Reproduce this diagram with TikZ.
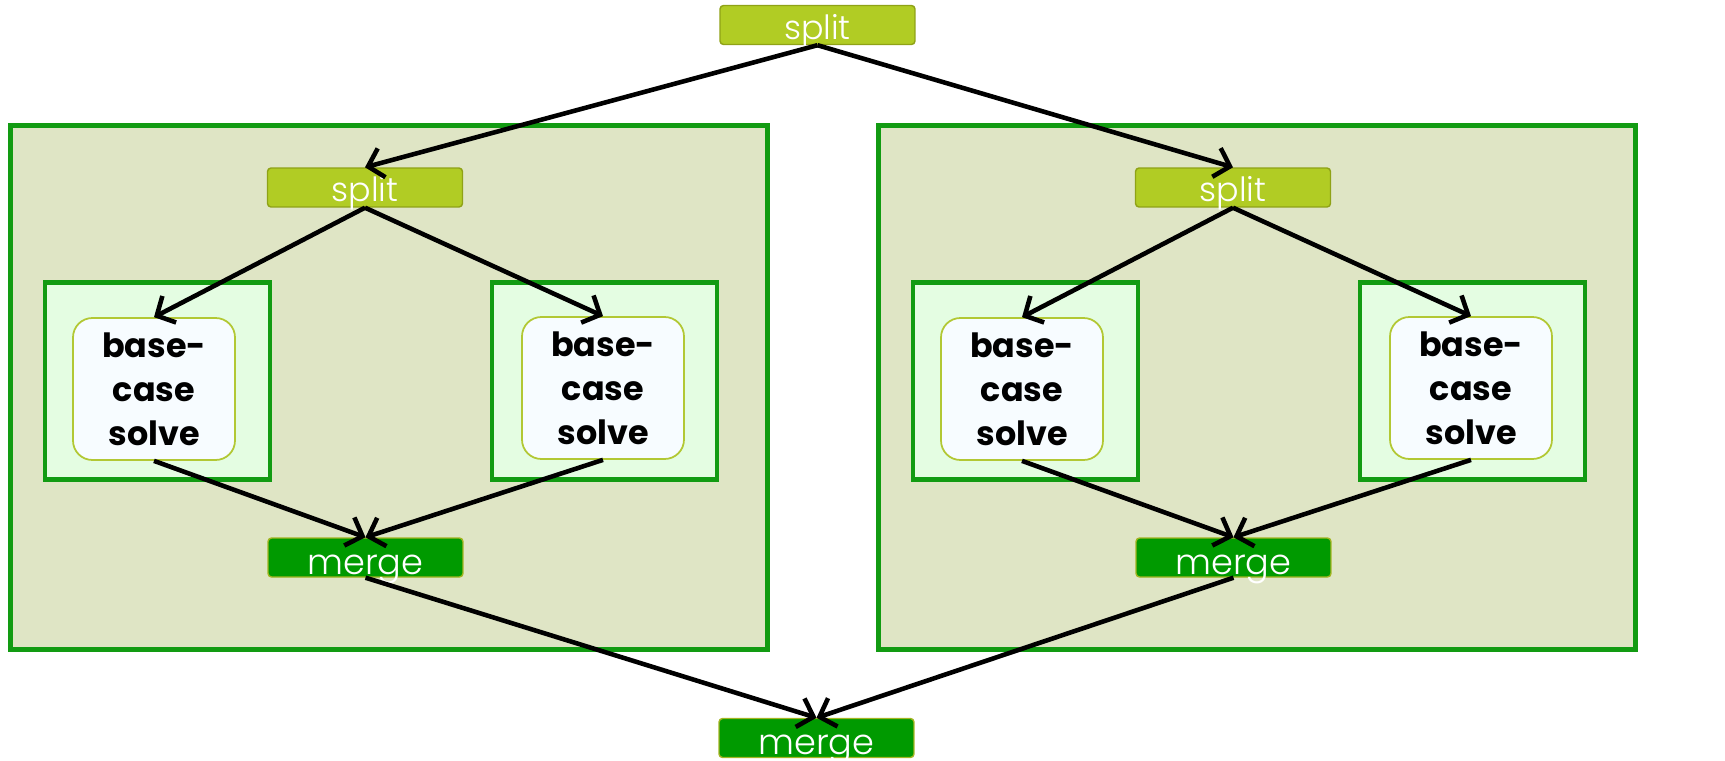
\documentclass[tikz,border=0pt]{standalone}
\usepackage{fontspec}
\setmainfont{Poppins}
\newfontfamily\thinfont{Poppins Light}
\usetikzlibrary{arrows.meta}
\definecolor{halffill}{HTML}{DFE5C5}
\definecolor{boxgreen}{HTML}{129B12}
\definecolor{leaffill}{HTML}{E4FDE2}
\definecolor{splitfill}{HTML}{B1CC24}
\definecolor{splitline}{HTML}{8FA216}
\definecolor{mergefill}{HTML}{009A00}
\definecolor{mergeline}{HTML}{A3B522}
\definecolor{solvefill}{HTML}{F7FCFF}
\definecolor{solveline}{HTML}{B2C834}
\tikzset{
    halfbox/.style={draw=boxgreen, line width=2.8pt, fill=halffill,
        minimum width=15.16cm, minimum height=10.5cm},
    leafbox/.style={draw=boxgreen, line width=2.8pt, fill=leaffill,
        minimum width=4.5cm, minimum height=3.94cm},
    solvebox/.style={draw=solveline, line width=1pt, fill=solvefill,
        rounded corners=11pt, minimum width=3.24cm, minimum height=2.84cm,
        align=center, font=\fontsize{19}{25}\selectfont\bfseries},
    splitbox/.style={draw=splitline, line width=.8pt, fill=splitfill,
        rounded corners=2pt, minimum width=3.9cm, minimum height=.78cm,
        inner sep=0pt, text height=19pt, text depth=3pt, text=white,
        font=\fontsize{19}{19}\thinfont},
    mergebox/.style={draw=mergeline, line width=.8pt, fill=mergefill,
        rounded corners=2pt, minimum width=3.9cm, minimum height=.78cm,
        inner sep=0pt, text height=20.5pt, text depth=1.5pt, text=white,
        font=\fontsize{20}{20}\thinfont},
    flow/.style={->, line width=2.6pt},
}

\begin{document}
\begin{tikzpicture}[x=.02cm, y=-.02cm,
        >={Straight Barb[length=8pt, width=17pt]}]
    \useasboundingbox (0,0) rectangle (1725,761);

    \node[splitbox] (split) at (817.5,25) {split};
    \node[mergebox] (merge) at (816.5,738) {merge};

    % two halves, the right one shifted by 868px
    \foreach \h/\dx in {L/0, R/868} {
        \begin{scope}[shift={(\dx,0)}]
            \node[halfbox] (half\h) at (389,387.5) {};
            \node[leafbox] (leaf\h1) at (157.5,381) {};
            \node[leafbox] (leaf\h2) at (604.5,381) {};
            \node[solvebox] (solve\h1) at (154,389) {base-\\case\\solve};
            \node[solvebox] (solve\h2) at (603,388) {base-\\case\\solve};
            \node[splitbox] (split\h) at (365,187.5) {split};
            \node[mergebox] (merge\h) at (365.5,557.5) {merge};
        \end{scope}

        \draw[flow] (split.south) -- (split\h.north);
        \draw[flow] (split\h.south) -- (solve\h1.north);
        \draw[flow] (split\h.south) -- (solve\h2.north);
        \draw[flow] (solve\h1.south) -- (merge\h.north);
        \draw[flow] (solve\h2.south) -- (merge\h.north);
        \draw[flow] (merge\h.south) -- (merge.north);
    }
\end{tikzpicture}
\end{document}
